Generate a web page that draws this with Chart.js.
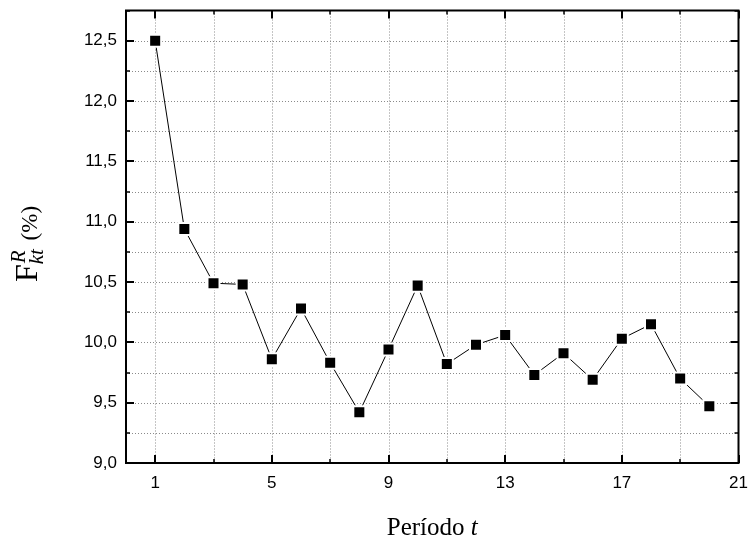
<!DOCTYPE html>
<html>
<head>
<meta charset="utf-8">
<script src="https://cdn.jsdelivr.net/npm/chart.js@4.4.1/dist/chart.umd.min.js"></script>
<style>
  html, body { margin: 0; padding: 0; background: #fff; }
  #wrap { width: 749px; height: 545px; }
</style>
</head>
<body>
<div id="wrap"><canvas id="chart" width="749" height="545"></canvas></div>
<script>
// data
const periods = [1, 2, 3, 4, 5, 6, 7, 8, 9, 10, 11, 12, 13, 14, 15, 16, 17, 18, 19, 20];
const rateValues = [12.50, 10.94, 10.49, 10.48, 9.86, 10.28, 9.83, 9.42, 9.94, 10.47,
                    9.82, 9.98, 10.06, 9.73, 9.91, 9.69, 10.03, 10.15, 9.70, 9.47];

// axis ticks (minor ones carry grid lines, labelled ones get text)
const xTickValues = [1, 3, 5, 7, 9, 11, 13, 15, 17, 19, 21];
const xLabelValues = [1, 5, 9, 13, 17, 21];
const yTickValues = [9.0, 9.25, 9.5, 9.75, 10.0, 10.25, 10.5, 10.75, 11.0, 11.25,
                     11.5, 11.75, 12.0, 12.25, 12.5, 12.75];
const yLabelValues = [9.0, 9.5, 10.0, 10.5, 11.0, 11.5, 12.0, 12.5];

const tickFont = { family: "'Liberation Sans', Arial, sans-serif", size: 17 };
const serif = "'Liberation Serif', 'Times New Roman', serif";

// dotted grid, inward ticks on all four sides, frame and axis titles
const framePlugin = {
    id: "frame",
    beforeDatasetsDraw(chart) {
        const { ctx, chartArea: a, scales: { x, y } } = chart;
        ctx.save();
        ctx.strokeStyle = "#8a8a8a";
        ctx.lineWidth = 1;
        ctx.setLineDash([1, 2]);
        x.ticks.forEach(t => {
            const px = Math.round(x.getPixelForValue(t.value)) + 0.5;
            if (px < a.left + 2 || px > a.right - 2) return;
            ctx.beginPath();
            ctx.moveTo(px, a.top);
            ctx.lineTo(px, a.bottom);
            ctx.stroke();
        });
        y.ticks.forEach(t => {
            const py = Math.round(y.getPixelForValue(t.value)) + 0.5;
            if (py < a.top + 2 || py > a.bottom - 2) return;
            ctx.beginPath();
            ctx.moveTo(a.left, py);
            ctx.lineTo(a.right, py);
            ctx.stroke();
        });
        ctx.restore();
    },
    afterDraw(chart) {
        const { ctx, chartArea: a, scales: { x, y } } = chart;
        ctx.save();
        ctx.strokeStyle = "#000";

        // inward tick marks
        x.ticks.forEach(t => {
            const major = xLabelValues.includes(t.value);
            const len = major ? 8 : 4;
            const px = Math.round(x.getPixelForValue(t.value));
            ctx.lineWidth = major ? 2 : 1.5;
            ctx.beginPath();
            ctx.moveTo(px, a.bottom);
            ctx.lineTo(px, a.bottom - len);
            ctx.moveTo(px, a.top);
            ctx.lineTo(px, a.top + len);
            ctx.stroke();
        });
        y.ticks.forEach(t => {
            const major = yLabelValues.includes(t.value);
            const len = major ? 8 : 4;
            const py = Math.round(y.getPixelForValue(t.value));
            ctx.lineWidth = major ? 2 : 1.5;
            ctx.beginPath();
            ctx.moveTo(a.left, py);
            ctx.lineTo(a.left + len, py);
            ctx.moveTo(a.right, py);
            ctx.lineTo(a.right - len, py);
            ctx.stroke();
        });

        // frame
        ctx.lineWidth = 2;
        ctx.strokeRect(a.left, a.top, a.right - a.left, a.bottom - a.top);

        // x title: "Período t"
        ctx.fillStyle = "#000";
        ctx.textBaseline = "alphabetic";
        ctx.textAlign = "left";
        ctx.font = "25px " + serif;
        const w1 = ctx.measureText("Período ").width;
        ctx.font = "italic 25px " + serif;
        const w2 = ctx.measureText("t").width;
        const cx = (a.left + a.right) / 2;
        let sx = cx - (w1 + w2) / 2;
        ctx.font = "25px " + serif;
        ctx.fillText("Período ", sx, 535);
        ctx.font = "italic 25px " + serif;
        ctx.fillText("t", sx + w1, 535);

        // y title: F^R_kt (%)
        ctx.save();
        ctx.translate(37, 244);
        ctx.rotate(-Math.PI / 2);
        ctx.font = "32px " + serif;
        const fW = ctx.measureText("F").width;
        ctx.font = "italic 21px " + serif;
        const rW = ctx.measureText("R").width;
        const ktW = ctx.measureText("kt").width;
        ctx.font = "23px " + serif;
        const pW = ctx.measureText("\u00a0(%)").width;
        const total = fW + Math.max(rW, ktW) + pW + 3;
        let u = -total / 2;
        ctx.font = "32px " + serif;
        ctx.fillText("F", u, 0);
        u += fW;
        ctx.font = "italic 21px " + serif;
        ctx.fillText("R", u + 1, -12);
        ctx.fillText("kt", u, 6);
        u += Math.max(rW, ktW) + 3;
        ctx.font = "23px " + serif;
        ctx.fillText("\u00a0(%)", u, 0);
        ctx.restore();

        ctx.restore();
    }
};

const ctx = document.getElementById("chart").getContext("2d");
new Chart(ctx, {
    type: "scatter",
    data: {
        datasets: [{
            data: periods.map((p, i) => ({ x: p, y: rateValues[i] })),
            showLine: true,
            borderColor: "#000",
            borderWidth: 1,
            pointStyle: "rect",
            pointRadius: 8.5,
            pointBackgroundColor: "#000",
            pointBorderColor: "#fff",
            pointBorderWidth: 2
        }]
    },
    options: {
        responsive: false,
        devicePixelRatio: 1,
        animation: false,
        layout: { padding: { left: 0, right: 10, top: 6, bottom: 0 } },
        plugins: {
            legend: { display: false },
            tooltip: { enabled: false }
        },
        scales: {
            x: {
                type: "linear",
                min: 0,
                max: 21,
                afterBuildTicks: s => { s.ticks = xTickValues.map(v => ({ value: v })); },
                afterFit: s => { s.height = 82; s.paddingLeft = 0; s.paddingRight = 0; },
                grid: { display: false, drawTicks: false },
                border: { display: false },
                ticks: {
                    autoSkip: false,
                    maxRotation: 0,
                    padding: 10,
                    color: "#000",
                    font: tickFont,
                    callback: v => xLabelValues.includes(v) ? String(v) : ""
                }
            },
            y: {
                type: "linear",
                min: 9,
                max: 12.75,
                afterBuildTicks: s => { s.ticks = yTickValues.map(v => ({ value: v })); },
                afterFit: s => { s.width = 126; s.paddingTop = 0; s.paddingBottom = 0; },
                grid: { display: false, drawTicks: false },
                border: { display: false },
                ticks: {
                    autoSkip: false,
                    padding: 9,
                    color: "#000",
                    font: tickFont,
                    callback: v => yLabelValues.includes(v) ? v.toFixed(1).replace(".", ",") : ""
                }
            }
        }
    },
    plugins: [framePlugin]
});
</script>
</body>
</html>
